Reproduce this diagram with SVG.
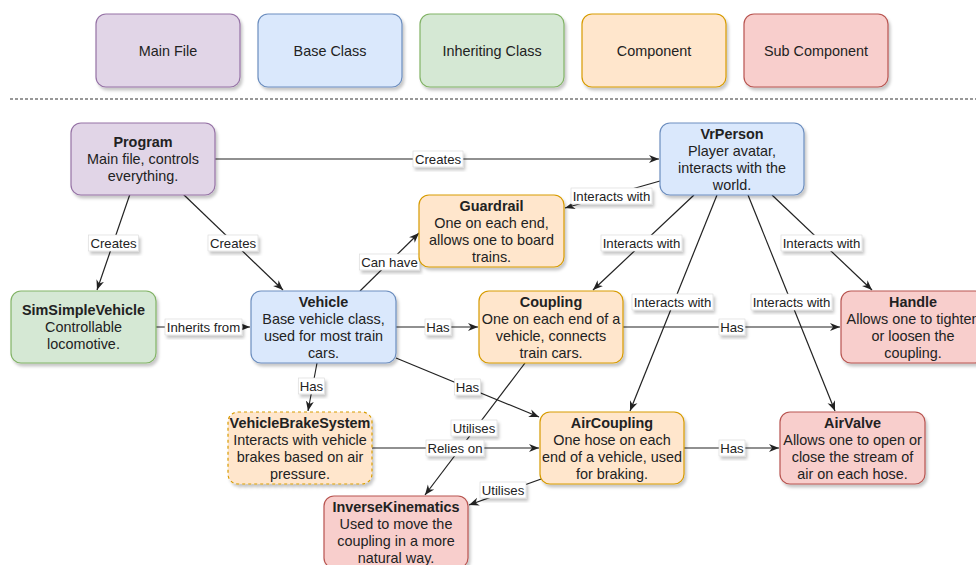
<svg xmlns="http://www.w3.org/2000/svg" width="976" height="565" viewBox="0 0 976 565">
<style>
.t{font-family:"Liberation Sans",Arial,sans-serif;font-size:14.4px;fill:#222;text-anchor:middle}
.b{font-weight:bold}
.l{font-family:"Liberation Sans",Arial,sans-serif;font-size:13.2px;fill:#222;text-anchor:middle}
.n{stroke-width:1.2}
.purple{fill:#e1d5e7;stroke:#9673a6}
.blue{fill:#dae8fc;stroke:#6c8ebf}
.green{fill:#d5e8d4;stroke:#82b366}
.orange{fill:#ffe6cc;stroke:#d79b00}
.red{fill:#f8cecc;stroke:#b85450}
.e{stroke:#222;stroke-width:1.2;fill:none;marker-end:url(#arr)}
.lb{fill:#fff;stroke:#d8d8d8;stroke-width:0.6}
</style>
<defs>
<filter id="sh" x="-10%" y="-10%" width="130%" height="140%">
<feDropShadow dx="2" dy="3" stdDeviation="1.5" flood-color="#000" flood-opacity="0.22"/>
</filter>
<marker id="arr" viewBox="0 0 10 10" refX="10" refY="5" markerWidth="10" markerHeight="10" markerUnits="userSpaceOnUse" orient="auto">
<path d="M0,1 L10,5 L0,9 L3,5 Z" fill="#222"/>
</marker>
</defs>
<rect width="976" height="565" fill="#fff"/>

<g id="legend">
<g id="legend-main"><rect class="n purple" x="96" y="14" width="144" height="73" rx="10" filter="url(#sh)"/><text class="t" x="168" y="55.5">Main File</text></g>
<g id="legend-base"><rect class="n blue" x="258" y="14" width="144" height="73" rx="10" filter="url(#sh)"/><text class="t" x="330" y="55.5">Base Class</text></g>
<g id="legend-inherit"><rect class="n green" x="420" y="14" width="144" height="73" rx="10" filter="url(#sh)"/><text class="t" x="492" y="55.5">Inheriting Class</text></g>
<g id="legend-component"><rect class="n orange" x="582" y="14" width="144" height="73" rx="10" filter="url(#sh)"/><text class="t" x="654" y="55.5">Component</text></g>
<g id="legend-sub"><rect class="n red" x="744" y="14" width="144" height="73" rx="10" filter="url(#sh)"/><text class="t" x="816" y="55.5">Sub Component</text></g>
</g>
<line x1="10" y1="99" x2="976" y2="99" stroke="#333" stroke-width="1.2" stroke-dasharray="3 2"/>

<g id="connectors">
<line class="e" x1="215" y1="159" x2="659" y2="159"/>
<line class="e" x1="130" y1="194" x2="97" y2="290"/>
<line class="e" x1="183" y1="194" x2="283" y2="290"/>
<line class="e" x1="360" y1="291" x2="419" y2="233"/>
<line class="e" x1="660" y1="181" x2="565" y2="208"/>
<line class="e" x1="694" y1="195" x2="593" y2="290"/>
<line class="e" x1="717" y1="195" x2="630" y2="411"/>
<line class="e" x1="748" y1="195" x2="835" y2="411"/>
<line class="e" x1="772" y1="195" x2="872" y2="290"/>
<line class="e" x1="156" y1="327" x2="250" y2="327"/>
<line class="e" x1="396" y1="327" x2="478" y2="327"/>
<line class="e" x1="317" y1="363" x2="308" y2="411"/>
<line class="e" x1="396" y1="358" x2="539" y2="417"/>
<line class="e" x1="623" y1="327" x2="840" y2="327"/>
<line class="e" x1="525" y1="363" x2="425" y2="495"/>
<line class="e" x1="372" y1="448" x2="539" y2="448"/>
<line class="e" x1="544" y1="478" x2="469" y2="505"/>
<line class="e" x1="684" y1="448" x2="779" y2="448"/>
<g id="edge-labels">
<rect class="lb" x="413" y="151" width="50" height="16" filter="url(#sh)"/><text class="l" x="438" y="163.5">Creates</text>
<rect class="lb" x="88.5" y="235" width="50" height="16" filter="url(#sh)"/><text class="l" x="113.5" y="247.5">Creates</text>
<rect class="lb" x="208" y="235" width="50" height="16" filter="url(#sh)"/><text class="l" x="233" y="247.5">Creates</text>
<rect class="lb" x="359.5" y="254" width="60" height="16" filter="url(#sh)"/><text class="l" x="389.5" y="266.5">Can have</text>
<rect class="lb" x="571" y="188" width="81" height="16" filter="url(#sh)"/><text class="l" x="611.5" y="200.5">Interacts with</text>
<rect class="lb" x="601" y="235" width="81" height="16" filter="url(#sh)"/><text class="l" x="641.5" y="247.5">Interacts with</text>
<rect class="lb" x="632" y="294" width="81" height="16" filter="url(#sh)"/><text class="l" x="672.5" y="306.5">Interacts with</text>
<rect class="lb" x="751" y="294" width="81" height="16" filter="url(#sh)"/><text class="l" x="791.5" y="306.5">Interacts with</text>
<rect class="lb" x="781" y="235" width="81" height="16" filter="url(#sh)"/><text class="l" x="821.5" y="247.5">Interacts with</text>
<rect class="lb" x="165" y="319" width="77" height="16" filter="url(#sh)"/><text class="l" x="203.5" y="331.5">Inherits from</text>
<rect class="lb" x="425" y="319" width="26" height="16" filter="url(#sh)"/><text class="l" x="438" y="331.5">Has</text>
<rect class="lb" x="298.5" y="378" width="26" height="16" filter="url(#sh)"/><text class="l" x="311.5" y="390.5">Has</text>
<rect class="lb" x="454.5" y="379" width="26" height="16" filter="url(#sh)"/><text class="l" x="467.5" y="391.5">Has</text>
<rect class="lb" x="719" y="319" width="26" height="16" filter="url(#sh)"/><text class="l" x="732" y="331.5">Has</text>
<rect class="lb" x="451" y="420" width="46" height="16" filter="url(#sh)"/><text class="l" x="474" y="432.5">Utilises</text>
<rect class="lb" x="426" y="440" width="58" height="16" filter="url(#sh)"/><text class="l" x="455" y="452.5">Relies on</text>
<rect class="lb" x="480" y="482" width="46" height="16" filter="url(#sh)"/><text class="l" x="503" y="494.5">Utilises</text>
<rect class="lb" x="719" y="440" width="26" height="16" filter="url(#sh)"/><text class="l" x="732" y="452.5">Has</text>
</g>
</g>

<g id="program"><rect class="n purple" x="71" y="123" width="144" height="72" rx="10" filter="url(#sh)"/>
<text class="t b" x="143" y="147">Program</text><text class="t" x="143" y="164">Main file, controls</text><text class="t" x="143" y="181">everything.</text></g>

<g id="vrperson"><rect class="n blue" x="660" y="123" width="144" height="72" rx="10" filter="url(#sh)"/>
<text class="t b" x="732" y="138.5">VrPerson</text><text class="t" x="732" y="155.5">Player avatar,</text><text class="t" x="732" y="172.5">interacts with the</text><text class="t" x="732" y="189.5">world.</text></g>

<g id="guardrail"><rect class="n orange" x="419" y="195" width="145" height="72" rx="10" filter="url(#sh)"/>
<text class="t b" x="491.5" y="210.5">Guardrail</text><text class="t" x="491.5" y="227.5">One on each end,</text><text class="t" x="491.5" y="244.5">allows one to board</text><text class="t" x="491.5" y="261.5">trains.</text></g>

<g id="simsimplevehicle"><rect class="n green" x="11" y="291" width="145" height="72" rx="10" filter="url(#sh)"/>
<text class="t b" x="83.5" y="315">SimSimpleVehicle</text><text class="t" x="83.5" y="332">Controllable</text><text class="t" x="83.5" y="349">locomotive.</text></g>

<g id="vehicle"><rect class="n blue" x="251" y="291" width="145" height="72" rx="10" filter="url(#sh)"/>
<text class="t b" x="323.5" y="306.5">Vehicle</text><text class="t" x="323.5" y="323.5">Base vehicle class,</text><text class="t" x="323.5" y="340.5">used for most train</text><text class="t" x="323.5" y="357.5">cars.</text></g>

<g id="coupling"><rect class="n orange" x="479" y="291" width="144" height="72" rx="10" filter="url(#sh)"/>
<text class="t b" x="551" y="306.5">Coupling</text><text class="t" x="551" y="323.5">One on each end of a</text><text class="t" x="551" y="340.5">vehicle, connects</text><text class="t" x="551" y="357.5">train cars.</text></g>

<g id="handle"><rect class="n red" x="841" y="291" width="144" height="72" rx="10" filter="url(#sh)"/>
<text class="t b" x="913" y="306.5">Handle</text><text class="t" x="913" y="323.5">Allows one to tighten</text><text class="t" x="913" y="340.5">or loosen the</text><text class="t" x="913" y="357.5">coupling.</text></g>

<g id="vehiclebrakesystem"><rect class="n orange" x="228" y="412" width="144" height="72" rx="10" stroke-dasharray="3 3" filter="url(#sh)"/>
<text class="t b" x="300" y="427.5">VehicleBrakeSystem</text><text class="t" x="300" y="444.5">Interacts with vehicle</text><text class="t" x="300" y="461.5">brakes based on air</text><text class="t" x="300" y="478.5">pressure.</text></g>

<g id="aircoupling"><rect class="n orange" x="540" y="412" width="144" height="72" rx="10" filter="url(#sh)"/>
<text class="t b" x="612" y="427.5">AirCoupling</text><text class="t" x="612" y="444.5">One hose on each</text><text class="t" x="612" y="461.5">end of a vehicle, used</text><text class="t" x="612" y="478.5">for braking.</text></g>

<g id="airvalve"><rect class="n red" x="780" y="412" width="145" height="72" rx="10" filter="url(#sh)"/>
<text class="t b" x="852.5" y="427.5">AirValve</text><text class="t" x="852.5" y="444.5">Allows one to open or</text><text class="t" x="852.5" y="461.5">close the stream of</text><text class="t" x="852.5" y="478.5">air on each hose.</text></g>

<g id="inversekinematics"><rect class="n red" x="324" y="496" width="144" height="72" rx="10" filter="url(#sh)"/>
<text class="t b" x="396" y="511.5">InverseKinematics</text><text class="t" x="396" y="528.5">Used to move the</text><text class="t" x="396" y="545.5">coupling in a more</text><text class="t" x="396" y="562.5">natural way.</text></g>
</svg>
